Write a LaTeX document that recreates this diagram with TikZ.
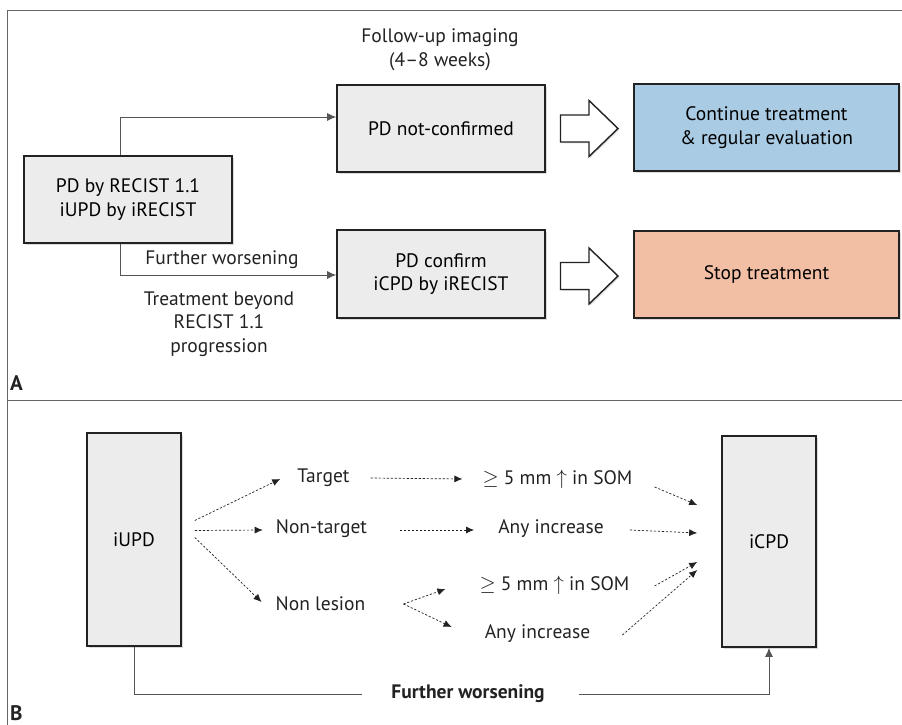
\documentclass[tikz,border=0pt]{standalone}
\usepackage{fontspec}
\setmainfont{PT Sans}
\usetikzlibrary{arrows.meta,shadows,calc}
\definecolor{boxgray}{HTML}{ECECEC}
\definecolor{contblue}{HTML}{A9CBE3}
\definecolor{stoporange}{HTML}{F2BFA5}
\definecolor{ink}{HTML}{222222}
\definecolor{linegray}{HTML}{555555}
\definecolor{framegray}{HTML}{666666}

\tikzset{
  card/.style={draw=ink, line width=1.6pt, fill=boxgray, align=center, inner sep=0pt,
    drop shadow={opacity=0.28, shadow xshift=1.6pt, shadow yshift=-1.6pt}},
  lbl/.style={inner sep=0pt, align=center, text=ink},
  link/.style={draw=linegray, line width=0.9pt},
  linkarrow/.style={link, -{Latex[length=9pt,width=8pt]}},
  dlink/.style={draw=ink, line width=0.7pt, dash pattern=on 2.2pt off 1.8pt,
    -{Latex[length=8pt,width=7pt]}},
  blockarr/.pic={
    \draw[draw=ink, line width=1.4pt, fill=white, line join=miter,
      drop shadow={opacity=0.25, shadow xshift=1.4pt, shadow yshift=-1.4pt}]
      (-28.5,-13.5) -- (0,-13.5) -- (0,-28) -- (29,0) -- (0,28) -- (0,13.5)
      -- (-28.5,13.5) -- cycle;
  }
}

\begin{document}
\begin{tikzpicture}[x=1pt, y=-1pt, font=\fontsize{19.5}{23.7}\selectfont]
\useasboundingbox (0,0) rectangle (902,725);

% frame and panel divider
\draw[framegray, line width=1pt] (902,11) -- (7,11) -- (7,725);
\draw[framegray, line width=1pt] (7,400) -- (902,400);

% ---------- panel A ----------
\node[card, minimum width=208pt, minimum height=87pt] (pd) at (128,199.5)
  {PD by RECIST 1.1\\iUPD by iRECIST};
\node[card, minimum width=208pt, minimum height=87pt] (nconf) at (441,128.5)
  {PD not-confirmed};
\node[card, minimum width=208pt, minimum height=88pt] (conf) at (441,274)
  {PD confirm\\iCPD by iRECIST};
\node[card, fill=contblue, minimum width=265pt, minimum height=87pt] (cont) at (766.5,127.5)
  {Continue treatment\\\& regular evaluation};
\node[card, fill=stoporange, minimum width=265pt, minimum height=87pt] (stop) at (766.5,274.5)
  {Stop treatment};

\node[lbl] (follow) at (440,50) {Follow-up imaging\\(4–8 weeks)};
\node[lbl] (worseA) at (222,260) {Further worsening};
\node[lbl] (beyond) at (219,324) {Treatment beyond\\RECIST 1.1\\progression};

\draw[linkarrow] ($(pd.north)+(-8,0)$) |- ($(nconf.west)+(0,-11.5)$);
\draw[linkarrow] ($(pd.south)+(-8,0)$) |- ($(conf.west)+(0,1)$);

\pic at (589,128.5) {blockarr};
\pic at (589,276) {blockarr};

\node[lbl, font=\fontsize{21}{24}\selectfont\bfseries, anchor=west] (labA) at (10,383) {A};

% ---------- panel B ----------
\node[card, minimum width=94pt, minimum height=213pt] (iupd) at (134,539.5) {iUPD};
\node[card, minimum width=94pt, minimum height=211pt] (icpd) at (769,541.5) {iCPD};

\node[lbl] (target) at (323.5,478) {Target};
\node[lbl] (nontarget) at (321.5,529) {Non-target};
\node[lbl] (nonlesion) at (320.5,604) {Non lesion};
\node[lbl] (somA) at (557.5,479) {$\geq$ 5 mm $\uparrow$ in SOM};
\node[lbl] (anyA) at (551,529) {Any increase};
\node[lbl] (somB) at (554.5,585) {$\geq$ 5 mm $\uparrow$ in SOM};
\node[lbl] (anyB) at (537.5,634) {Any increase};
\node[lbl, font=\fontsize{19.5}{23}\selectfont\bfseries] (worseB) at (468,694) {Further worsening};

% branches out of iUPD
\draw[dlink] ($(iupd.east)+(13,-19)$) -- ($(target.west)+(-17,1)$);
\draw[dlink] ($(iupd.east)+(13,-9)$) -- ($(nontarget.west)+(-13,1)$);
\draw[dlink] ($(iupd.east)+(13,-2)$) -- ($(nonlesion.west)+(-14,-2)$);

% criteria per lesion class
\draw[dlink] ($(target.east)+(21,0)$) -- ($(somA.west)+(-20,0)$);
\draw[dlink] ($(nontarget.east)+(33,1)$) -- ($(anyA.west)+(-24,1)$);
\coordinate (split) at ($(nonlesion.east)+(38,0)$);
\draw[dlink] (split) -- ($(somB.west)+(-34,4)$);
\draw[dlink] (split) -- ($(anyB.west)+(-33,-7)$);

% into iCPD
\draw[dlink] ($(somA.east)+(22,8)$) -- ($(icpd.west)+(-24,-36.5)$);
\draw[dlink] ($(anyA.east)+(26,1)$) -- ($(icpd.west)+(-24,-8.5)$);
\draw[dlink] ($(somB.east)+(25,1)$) -- ($(icpd.west)+(-24,20.5)$);
\draw[dlink] ($(anyB.east)+(32,1)$) -- ($(icpd.west)+(-24,28.5)$);

% direct path
\draw[link] (iupd.south) |- ($(worseB.west)+(-29,0)$);
\draw[linkarrow] ($(worseB.east)+(34,0)$) -| (icpd.south);

\node[lbl, font=\fontsize{21}{24}\selectfont\bfseries, anchor=west] (labB) at (10,713) {B};
\end{tikzpicture}
\end{document}
